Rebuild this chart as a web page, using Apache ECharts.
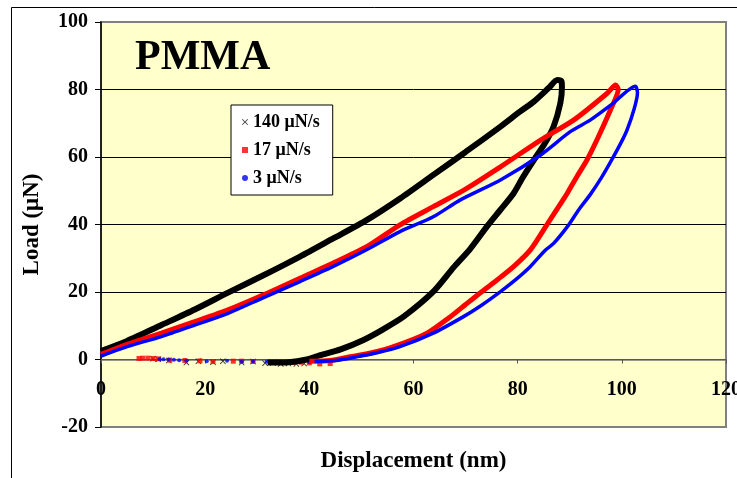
<!DOCTYPE html>
<html>
<head>
<meta charset="utf-8">
<script src="https://cdn.jsdelivr.net/npm/echarts@6/dist/echarts.min.js"></script>
<style>
  html, body { margin: 0; padding: 0; background: #fff; }
  #main { width: 737px; height: 478px; }
</style>
</head>
<body>
<div id="main"></div>
<script>
// 加载速率
var names = ['140 μN/s', '17 μN/s', '3 μN/s'];
var colors = ['#000000', '#FF0000', '#0000FF'];

// 加载-卸载回线 (位移 nm, 载荷 μN)
var loop140 = [[0,2.5],[5,5.5],[11.6,10.2],[18,14.8],[24.4,19.8],[31,24.8],[38.2,30.5],[44.5,35.8],
    [51,41.3],[57.5,47.8],[63.8,54.7],[70,61.5],[76.7,69],[80.5,73.5],[83.1,76.4],[86,80.5],[87.6,82.8],
    [88.4,82.5],[88.5,80.8],[88.2,76],[86.9,69],[85.2,64],[83.1,59.1],[81,54],[79.2,49.2],[76.5,44],
    [74.3,39.8],[70.9,32.8],[67.7,27.3],[63.8,20.1],[58.1,12.7],[54,8.8],[50.4,5.8],[46,3],[42.1,1.3],
    [39.5,0],[36,-0.8],[32,-0.9]];
var loop17 = [[0,1.5],[5,4.5],[11.6,7.8],[18,11.2],[24.4,14.7],[31,19],[38.2,24.1],[44.5,28.5],[51,33.4],
    [57.4,39.9],[63.8,45.3],[70,50.5],[76.7,57.1],[84.4,65],[90.8,71],[97.2,78.9],[98.8,81.3],[99.3,80],
    [97.8,73.9],[95.5,66],[93.3,59.1],[91.3,54],[89.5,49.2],[88.5,46.8],[85.6,39.9],[82.4,32.4],[79.2,27.5],
    [76,23.5],[73.1,20.1],[70,16.3],[67.1,12.7],[62.6,7.8],[56.2,3.8],[52,2],[47.8,0.8],[44,-0.3],[40,-0.5]];
var loop3 = [[0,1],[5,3.8],[11.6,6.8],[18,10.2],[24.4,13.7],[31,18.2],[38.2,23.1],[44.5,27.5],[51,32.5],
    [57.4,37.9],[63.8,42.3],[69,47.3],[76.7,53.2],[84.4,60.6],[90.1,67.5],[94,71],[98,75.5],[102.6,81],
    [103,79],[102.3,73.9],[101,68],[99.8,64.1],[98,59],[96.2,54.2],[94,49],[91.7,44.3],[89.8,39.9],
    [86.9,34.4],[85.3,32.4],[82.4,27.5],[79.5,23.5],[76.7,20.1],[73,16],[69.6,12.7],[63.8,7.8],[57.4,3.8],
    [53,2],[49.1,0.8],[45,-0.3],[41,-0.6]];

// 卸载末端的零散点
var tail140 = [[39,-1.2],[37.5,-1.3],[36,-1.2],[34.5,-1.3],[33,-1],[31.5,-1.1],[29.2,-0.6],[27,-0.9],
    [23.4,-0.5],[21.5,-0.8],[18.7,-0.5],[16.4,-0.9],[13,-0.3],[11,0.1],[10,0.2]];
var tail17 = [[44,-1.2],[42,-1.3],[40,-1],[38.5,-0.8],[36.9,-0.9],[33.7,-0.7],[29.2,-0.6],[27,-0.5],
    [25.4,-0.5],[21.5,-0.6],[19,-0.4],[16.1,-0.3],[13.2,-0.2],[11,0.2],[10,0.3],[9,0.4],[8,0.4],[7.3,0.3]];
var tail3 = [[40,-0.8],[38.2,-0.7],[36.3,-0.9],[34.7,-0.8],[31.8,-0.7],[29.2,-0.5],[27,-0.6],[24.2,-0.4],
    [20.3,-0.5],[16.4,-0.4],[15,-0.2],[14,-0.1],[13,0],[12,0.1],[11.3,0.1]];

var xTicks = [0, 20, 40, 60, 80, 100, 120];
var yTicks = [-20, 0, 20, 40, 60, 80, 100];

var crossIcon = 'path://M0,1L1,0L5,4L9,0L10,1L6,5L10,9L9,10L5,6L1,10L0,9L4,5Z';
var font = 'Liberation Serif';

var myChart = echarts.init(document.getElementById('main'));

var loops = [loop140, loop17, loop3];
var tails = [tail140, tail17, tail3];
var symbols = [crossIcon, 'rect', 'circle'];
var symbolSizes = [6, 5, 4];
var widths = [6, 5, 3.5];

var series = [];
for (var i = 0; i < 3; i++) {
    series.push({
        name: names[i],
        type: 'scatter',
        data: tails[i],
        symbol: symbols[i],
        symbolSize: symbolSizes[i],
        itemStyle: { color: colors[i] },
        z: 3
    });
}
for (var i = 0; i < 3; i++) {
    series.push({
        name: names[i],
        type: 'line',
        data: loops[i],
        smooth: 0.25,
        showSymbol: false,
        lineStyle: { color: colors[i], width: widths[i] },
        itemStyle: { color: colors[i] },
        z: 4
    });
}

var option = {
    animation: false,
    backgroundColor: '#ffffff',
    textStyle: { fontFamily: font },
    grid: {
        left: 101, right: 11, top: 22, bottom: 51,
        containLabel: false,
        outerBoundsMode: 'none',
        show: true,
        backgroundColor: '#FFFFCC',
        borderColor: '#808080',
        borderWidth: 2
    },
    legend: {
        orient: 'vertical',
        left: 231,
        top: 105,
        backgroundColor: '#ffffff',
        borderColor: '#000',
        borderWidth: 1,
        padding: [8, 13, 8, 11],
        itemWidth: 6,
        itemHeight: 6,
        itemGap: 10,
        textStyle: { fontFamily: font, fontSize: 18, fontWeight: 'bold', color: '#000' },
        data: [
            { name: names[0], icon: crossIcon, itemStyle: { color: colors[0] } },
            { name: names[1], icon: 'rect', itemStyle: { color: colors[1] } },
            { name: names[2], icon: 'circle', itemStyle: { color: colors[2] } }
        ]
    },
    xAxis: {
        type: 'value',
        min: xTicks[0],
        max: xTicks[xTicks.length - 1],
        interval: 20,
        name: 'Displacement (nm)',
        nameLocation: 'middle',
        nameGap: 23,
        nameTextStyle: { fontFamily: font, fontSize: 23, fontWeight: 'bold', color: '#000' },
        axisLine: { onZero: true, lineStyle: { color: '#777', width: 1.5 } },
        axisTick: { show: true, length: 4, lineStyle: { color: '#555' } },
        axisLabel: { margin: -47, fontFamily: font, fontSize: 20, fontWeight: 'bold', color: '#000' },
        splitLine: { show: false }
    },
    yAxis: {
        type: 'value',
        min: yTicks[0],
        max: yTicks[yTicks.length - 1],
        interval: 20,
        name: 'Load (μN)',
        nameLocation: 'middle',
        nameGap: 57,
        nameRotate: 90,
        nameTextStyle: { fontFamily: font, fontSize: 23, fontWeight: 'bold', color: '#000' },
        axisLine: { show: true, onZero: false, lineStyle: { color: '#000', width: 1.5 } },
        axisTick: { show: true, length: 6, lineStyle: { color: '#000' } },
        axisLabel: { margin: 13, fontFamily: font, fontSize: 20, fontWeight: 'bold', color: '#000' },
        splitLine: { show: true, showMinLine: false, showMaxLine: false, lineStyle: { color: '#000', width: 1 } }
    },
    graphic: [
        {
            type: 'rect',
            left: 9, top: 5,
            shape: { width: 800, height: 500 },
            style: { fill: 'none', stroke: '#000', lineWidth: 1 },
            silent: true,
            z: -10
        },
        {
            type: 'text',
            left: 135, top: 37,
            style: { text: 'PMMA', font: 'bold 42px "Liberation Serif"', fill: '#000' },
            z: 10
        }
    ],
    series: series
};

myChart.setOption(option);
</script>
</body>
</html>
